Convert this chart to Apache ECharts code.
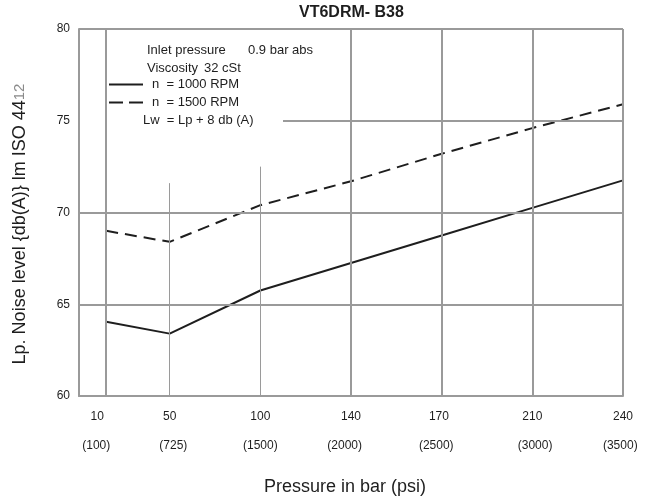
<!DOCTYPE html>
<html>
<head>
<meta charset="utf-8">
<script src="https://cdn.jsdelivr.net/npm/echarts@6/dist/echarts.min.js"></script>
<style>
html,body{margin:0;padding:0;background:#fff;}
#chart{width:654px;height:498px;}
</style>
</head>
<body>
<div id="chart"></div>
<script>
// ---- data ----
const barLabels = ['10', '50', '100', '140', '170', '210', '240'];
const psiLabels = ['(100)', '(725)', '(1500)', '(2000)', '(2500)', '(3000)', '(3500)'];
const rpm1000 = [64.05, 63.4, 65.75, 67.25, 68.75, 70.25, 71.75];
const rpm1500 = [69.0, 68.4, 70.4, 71.7, 73.2, 74.6, 75.9];
const seriesNames = ['n  = 1000 RPM', 'n  = 1500 RPM'];

// ---- layout (positions on the drawn pressure scale) ----
const xPos = [0.3, 1, 2, 3, 4, 5, 6];
const barLabelPos = [0.2, 1, 2, 3, 3.97, 5, 6];
const psiLabelPos = [0.19, 1.04, 2, 2.93, 3.94, 5.03, 5.97];
const vGridTop = [80, 71.6, 72.5, 80, 80, 80, 80];
const vGridWidth = [2, 1, 1, 2, 2, 2, 2];
const hGridY = [65, 70, 75, 80];
const hGridFrom = [0, 0, 2.25, 0];

const FONT = '"Liberation Sans", Arial, Helvetica, sans-serif';
const GRID = '#9a9a9a';
const INK = '#1e1e1e';
const DASH = [12, 7];

function nearestIdx(arr, v) {
  let b = 0;
  for (let i = 1; i < arr.length; i++) if (Math.abs(arr[i] - v) < Math.abs(arr[b] - v)) b = i;
  return b;
}

const gridLines = [];
xPos.forEach((x, i) => {
  gridLines.push([{ coord: [x, vGridTop[i]], lineStyle: { width: vGridWidth[i], color: GRID, type: 'solid' } }, { coord: [x, 60] }]);
});
hGridY.forEach((y, i) => {
  gridLines.push([{ coord: [hGridFrom[i], y], lineStyle: { width: 2, color: GRID, type: 'solid' } }, { coord: [6, y] }]);
});

const chart = echarts.init(document.getElementById('chart'));
chart.setOption({
  animation: false,
  backgroundColor: '#fff',
  title: {
    text: 'VT6DRM- B38',
    left: 299, top: 5, padding: 0,
    textStyle: { fontFamily: FONT, fontSize: 16, fontWeight: 'bold', color: INK }
  },
  grid: { left: 79, right: 31, top: 29, bottom: 102 },
  legend: {
    orient: 'vertical', left: 108, top: 78, padding: 0,
    itemWidth: 34, itemHeight: 14, itemGap: 5,
    selectedMode: false,
    textStyle: { fontFamily: FONT, fontSize: 13, color: INK, padding: [0, 0, 0, 4] },
    data: [
      { name: seriesNames[0], itemStyle: { opacity: 0 }, lineStyle: { color: INK, width: 2, type: 'solid' } },
      { name: seriesNames[1], itemStyle: { opacity: 0 }, lineStyle: { color: INK, width: 2, type: [14, 6] } }
    ]
  },
  xAxis: [{
    type: 'value', min: 0, max: 6,
    axisLine: { show: true, lineStyle: { color: GRID, width: 2 } },
    axisTick: { show: false },
    splitLine: { show: false },
    axisLabel: {
      customValues: barLabelPos, margin: 15,
      fontFamily: FONT, fontSize: 12, color: INK,
      formatter: v => barLabels[nearestIdx(barLabelPos, v)]
    }
  }, {
    type: 'value', min: 0, max: 6, position: 'bottom',
    axisLine: { show: false }, axisTick: { show: false }, splitLine: { show: false },
    axisLabel: {
      customValues: psiLabelPos, margin: 44,
      fontFamily: FONT, fontSize: 12, color: INK,
      formatter: v => psiLabels[nearestIdx(psiLabelPos, v)]
    }
  }],
  yAxis: {
    type: 'value', min: 60, max: 80, interval: 5,
    axisLine: { show: true, lineStyle: { color: GRID, width: 2 } },
    axisTick: { show: false },
    splitLine: { show: false },
    axisLabel: { margin: 9, fontFamily: FONT, fontSize: 12, color: INK, padding: [0, 0, 10, 0] }
  },
  series: [{
    type: 'line', name: 'grid', data: [], silent: true, z: 1,
    markLine: { silent: true, symbol: ['none', 'none'], label: { show: false }, animation: false, data: gridLines }
  }, {
    type: 'line', name: seriesNames[0], z: 3,
    data: xPos.map((x, i) => [x, rpm1000[i]]),
    showSymbol: false, symbol: 'none',
    lineStyle: { color: INK, width: 2, type: 'solid' },
    itemStyle: { color: INK }
  }, {
    type: 'line', name: seriesNames[1], z: 3,
    data: xPos.map((x, i) => [x, rpm1500[i]]),
    showSymbol: false, symbol: 'none',
    lineStyle: { color: INK, width: 2, type: DASH },
    itemStyle: { color: INK }
  }],
  graphic: [
    { type: 'text', left: 147, top: 44, style: { text: 'Inlet pressure', font: '13px ' + FONT, fill: INK } },
    { type: 'text', left: 248, top: 44, style: { text: '0.9 bar abs', font: '13px ' + FONT, fill: INK } },
    { type: 'text', left: 147, top: 62, style: { text: 'Viscosity', font: '13px ' + FONT, fill: INK } },
    { type: 'text', left: 204, top: 62, style: { text: '32 cSt', font: '13px ' + FONT, fill: INK } },
    { type: 'text', left: 143, top: 114, style: { text: 'Lw  = Lp + 8 db (A)', font: '13px ' + FONT, fill: INK } },
    {
      type: 'text', x: 20, y: 224, rotation: Math.PI / 2,
      style: {
        text: 'Lp. Noise level {db(A)} lm ISO 44{s|12}',
        font: '18px ' + FONT, fill: INK, align: 'center', verticalAlign: 'middle',
        rich: { s: { fontSize: 15, fontFamily: FONT, fill: '#8a8a8a' } }
      }
    },
    {
      type: 'text', x: 345, y: 487,
      style: { text: 'Pressure in bar (psi)', font: '18px ' + FONT, fill: INK, align: 'center', verticalAlign: 'middle' }
    }
  ]
});
</script>
</body>
</html>
